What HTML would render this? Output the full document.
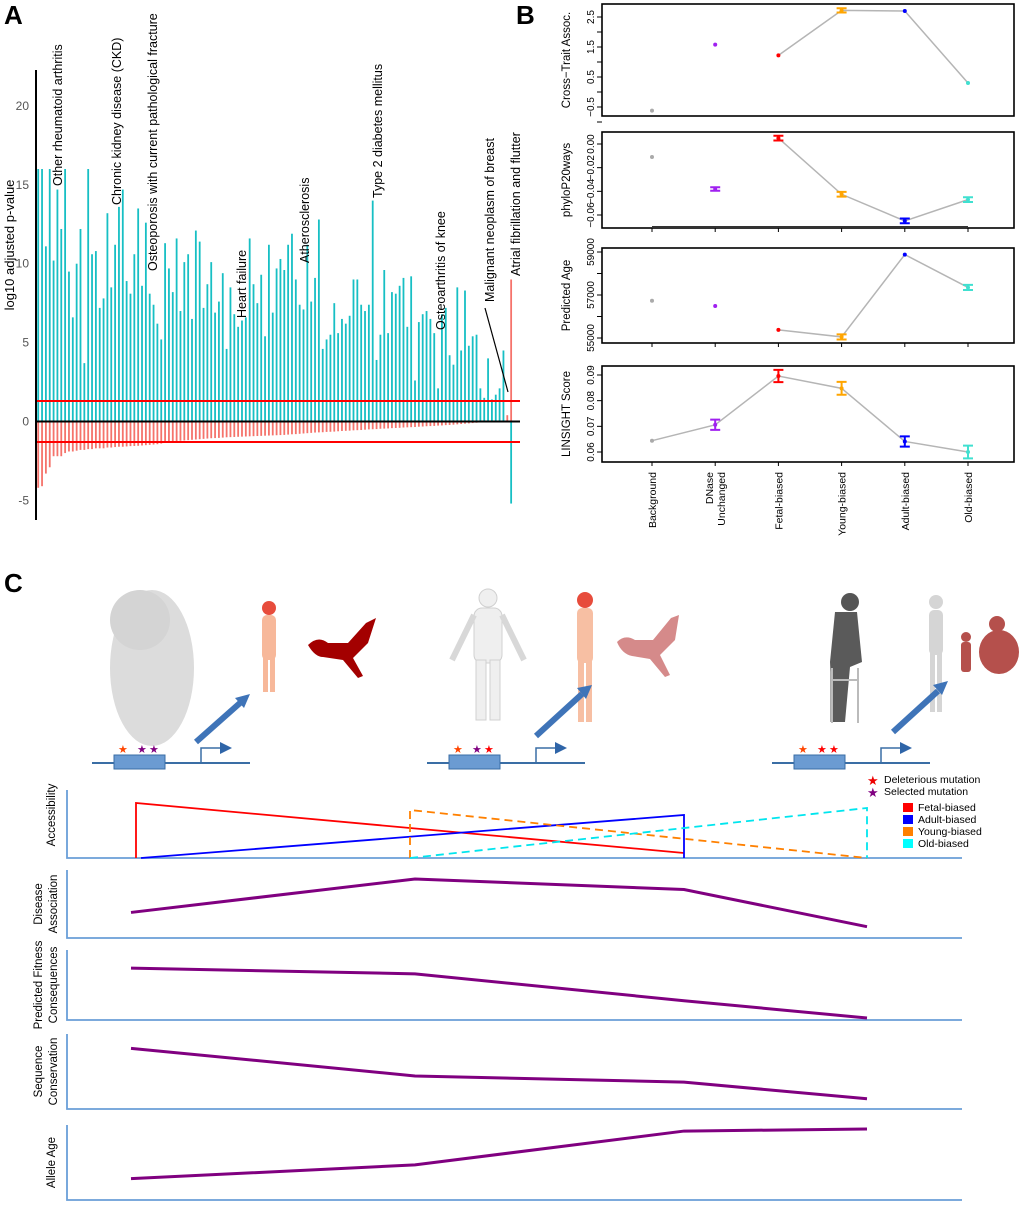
<!DOCTYPE html>
<html><head><meta charset="utf-8"><style>
body{margin:0;background:#fff}
svg{display:block;font-family:"Liberation Sans",Arial,sans-serif}
</style></head><body>
<svg id="fig" width="1020" height="1206" viewBox="0 0 1020 1206" xmlns="http://www.w3.org/2000/svg">
<text x="4" y="24" font-size="26" font-weight="bold">A</text>
<text x="516" y="24" font-size="26" font-weight="bold">B</text>
<text x="4" y="592" font-size="26" font-weight="bold">C</text>
<g id="pa"></g>
<g id="pb"></g>
<g id="pc">
  <g>
    <ellipse cx="152" cy="668" rx="42" ry="78" fill="#dcdcdc"/>
    <circle cx="140" cy="620" r="30" fill="#d4d4d4"/>
  </g>
  <g fill="#f7b89a">
    <circle cx="269" cy="608" r="7" fill="#e74c3c"/>
    <rect x="262" y="615" width="14" height="45" rx="5"/>
    <rect x="263" y="658" width="5" height="34"/><rect x="270" y="658" width="5" height="34"/>
  </g>
  <path d="M308 645 q10 -10 20 -2 l20 0 l18 -20 l10 -5 l-8 25 l-15 15 l10 18 l-5 2 l-15 -18 l-20 -3 q-8 0 -15 -12z" fill="#a30000"/>
  <g fill="#efefef" stroke="#d0d0d0">
    <circle cx="488" cy="598" r="9"/>
    <rect x="474" y="608" width="28" height="55" rx="8"/>
    <rect x="476" y="660" width="10" height="60"/><rect x="490" y="660" width="10" height="60"/>
    <path d="M474 615 l-22 45 M502 615 l22 45" stroke="#d8d8d8" stroke-width="6" fill="none"/>
  </g>
  <g fill="#f7bfa3">
    <circle cx="585" cy="600" r="8" fill="#e74c3c"/>
    <rect x="577" y="608" width="16" height="55" rx="5"/>
    <rect x="578" y="660" width="6" height="62"/><rect x="586" y="660" width="6" height="62"/>
  </g>
  <path d="M617 642 q8 -8 18 -2 l18 0 l18 -22 l8 -3 l-4 25 l-15 15 l10 20 l-5 2 l-15 -18 l-18 -3 q-10 -2 -15 -14z" fill="#d58a8a"/>
  <g>
    <circle cx="850" cy="602" r="9" fill="#555"/>
    <path d="M835 612 l22 0 l5 50 l-12 5 l-5 55 l-12 0 l-3 -60z" fill="#5a5a5a"/>
    <path d="M835 660 l0 62" stroke="#5a5a5a" stroke-width="9"/>
    <path d="M832 668 l0 55 M858 668 l0 55 M832 680 l26 0" stroke="#bbb" stroke-width="2" fill="none"/>
  </g>
  <g fill="#d5d5d5">
    <circle cx="936" cy="602" r="7"/>
    <rect x="929" y="610" width="14" height="45" rx="5"/>
    <rect x="930" y="652" width="5" height="60"/><rect x="937" y="652" width="5" height="60"/>
  </g>
  <g fill="#b5504c">
    <circle cx="966" cy="637" r="5"/>
    <rect x="961" y="642" width="10" height="30" rx="3"/>
    <circle cx="997" cy="624" r="8"/>
    <ellipse cx="999" cy="652" rx="20" ry="22"/>
  </g>
  <g stroke="#3f74b8" stroke-width="6" fill="#5a8ed0">
    <line x1="196" y1="742" x2="240" y2="703"/><polygon points="250,694 235,698 244,708" stroke="none" fill="#3f74b8"/>
    <line x1="536" y1="736" x2="582" y2="694"/><polygon points="592,685 577,688 586,699" stroke="none" fill="#3f74b8"/>
    <line x1="893" y1="732" x2="938" y2="691"/><polygon points="948,681 933,685 942,695" stroke="none" fill="#3f74b8"/>
  </g>
  <g id="genes"></g>
  <g id="cplots"></g>
  <g font-size="10.5">
    <text x="867" y="785" fill="#e00" font-size="13">★</text><text x="884" y="783">Deleterious mutation</text>
    <text x="867" y="797" fill="#800080" font-size="13">★</text><text x="884" y="795">Selected mutation</text>
    <rect x="903" y="803" width="10" height="9" fill="#f00"/><text x="918" y="811">Fetal-biased</text>
    <rect x="903" y="815" width="10" height="9" fill="#00f"/><text x="918" y="823">Adult-biased</text>
    <rect x="903" y="827" width="10" height="9" fill="#ff8000"/><text x="918" y="835">Young-biased</text>
    <rect x="903" y="839" width="10" height="9" fill="#0ff"/><text x="918" y="847">Old-biased</text>
  </g>
</g>
</svg>
<script>
const NS="http://www.w3.org/2000/svg";
function mk(parent,tag,attrs,txt){const e=document.createElementNS(NS,tag);for(const k in attrs)e.setAttribute(k,attrs[k]);if(txt!==undefined)e.textContent=txt;parent.appendChild(e);return e;}

// ---------- Panel A data ----------
const posValues=[16,16,11.1,16,10.2,14.7,12.2,16,9.5,6.6,10,12.2,3.7,16,10.6,10.8,7.2,7.8,13.2,8.5,11.2,13.6,14.7,8.9,8.1,10.6,13.5,8.6,12.6,8.1,7.4,6.2,5.2,11.3,9.7,8.2,11.6,7,10.1,10.6,6.5,12.1,11.4,7.2,8.7,10.1,6.9,7.6,9.4,4.6,8.5,6.8,6,6.4,6.6,11.6,8.7,7.5,9.3,5.4,11.2,6.9,9.7,10.3,9.6,11.2,11.9,9,7.4,7.1,11.2,7.6,9.1,12.8,4.6,5.2,5.5,7.5,5.6,6.5,6.2,6.7,9,9,7.4,7,7.4,14,3.9,5.5,9.6,5.6,8.2,8.1,8.6,9.1,6,9.2,2.6,6.3,6.8,7,6.5,5.6,2.1,6.8,7.2,4.2,3.6,8.5,4.5,8.3,4.8,5.4,5.5,2.1,1.5,4,1.4,1.7,2.1,4.5,0.4,9];
const negValues=[-4.2,-4.1,-3.3,-2.9,-2.2,-2.2,-2.2,-2.0,-1.9,-1.9,-1.85,-1.8,-1.8,-1.75,-1.75,-1.7,-1.7,-1.7,-1.65,-1.65,-1.62,-1.6,-1.6,-1.58,-1.56,-1.55,-1.54,-1.52,-1.5,-1.48,-1.46,-1.44,-1.4,-1.3,-1.28,-1.26,-1.24,-1.22,-1.2,-1.18,-1.16,-1.14,-1.12,-1.1,-1.08,-1.06,-1.05,-1.04,-1.02,-1.0,-0.99,-0.98,-0.97,-0.96,-0.95,-0.94,-0.93,-0.92,-0.91,-0.9,-0.89,-0.88,-0.87,-0.86,-0.85,-0.83,-0.81,-0.8,-0.78,-0.76,-0.74,-0.72,-0.7,-0.69,-0.68,-0.66,-0.65,-0.64,-0.62,-0.6,-0.59,-0.58,-0.56,-0.55,-0.54,-0.52,-0.5,-0.49,-0.48,-0.46,-0.45,-0.44,-0.42,-0.41,-0.4,-0.38,-0.37,-0.36,-0.35,-0.33,-0.32,-0.3,-0.29,-0.28,-0.26,-0.25,-0.23,-0.22,-0.2,-0.18,-0.16,-0.14,-0.12,-0.1,-0.08,-0.06,-0.05,-0.04,-0.03,-0.02,-0.01,0,0,-5.2];
const aTicks=[20,15,10,5,0,-5];
const threshold=1.3;
const labelNames=["Other rheumatoid arthritis","Chronic kidney disease (CKD)","Osteoporosis with current pathological fracture","Heart failure","Atherosclerosis","Type 2 diabetes mellitus","Osteoarthritis of knee","Malignant neoplasm of breast","Atrial fibrillation and flutter"];
const labelX=[62,121,157,246,309,382,445,494,520];
const labelY=[186,205,271,318,263,198,330,302,276];

const pa=document.getElementById('pa');
const ay=v=>421.5-v*15.78, ax=i=>37.3+i*3.845;
aTicks.forEach(t=>{const tx=mk(pa,'text',{x:29,y:ay(t)+4,'font-size':12,fill:'#555','text-anchor':'end'},t);

});
const ylab=mk(pa,'text',{transform:'translate(14,245) rotate(-90)','font-size':13,'text-anchor':'middle'},'log10 adjusted p-value');


const last=posValues.length-1;
posValues.forEach((v,i)=>{
  const isLast=i===last;
  const col=isLast?'#f5736b':(v<1?'#f5736b':'#17bfc4');
  const b=mk(pa,'rect',{x:ax(i),y:ay(v),width:1.8,height:Math.max(0,ay(0)-ay(v)),fill:col});
  
  
  const n=negValues[i]||0;
  const b2=mk(pa,'rect',{x:ax(i),y:ay(0),width:1.8,height:Math.max(0,ay(n)-ay(0)),fill:isLast?'#17bfc4':'#f5736b'});
  
  
});
[threshold,-threshold].forEach(t=>{const l=mk(pa,'line',{x1:36,x2:520,y1:ay(t),y2:ay(t),stroke:'#f00','stroke-width':2});

});
const z=mk(pa,'line',{x1:35,x2:520,y1:ay(0),y2:ay(0),stroke:'#000','stroke-width':2});


const yax=mk(pa,'line',{x1:36,x2:36,y1:70,y2:520,stroke:'#000','stroke-width':2});


labelNames.forEach((s,k)=>{
  const t=mk(pa,'text',{transform:`translate(${labelX[k]},${labelY[k]}) rotate(-90)`,'font-size':12.5},s);
  
  
});
const pl=mk(pa,'line',{x1:485,y1:308,x2:508,y2:392,stroke:'#000','stroke-width':1.2});



// ---------- Panel B data ----------
const categories=["Background","DNase|Unchanged","Fetal-biased","Young-biased","Adult-biased","Old-biased"];
const catColors=["#aaaaaa","#a020f0","#ff0000","#ffa500","#0000ff","#40e0d0"];
const crossVals=[-0.62,1.58,1.22,2.72,2.7,0.3];
const crossErr=[0,0,0,0.07,0,0];
const phyloVals=[-0.011,-0.038,0.005,-0.0425,-0.065,-0.047];
const phyloErr=[0,0.0015,0.002,0.002,0.002,0.002];
const ageVals=[56730,56490,55380,55050,58880,57350];
const ageErr=[0,0,0,120,0,120];
const linVals=[0.0644,0.0706,0.0896,0.0848,0.0641,0.060];
const linErr=[0,0.002,0.0024,0.0025,0.002,0.0025];
const crossTicks=[2.5,1.5,0.5,-0.5],crossMinor=[2,1,0,-1];
const phyloTicks=[0,-0.02,-0.04,-0.06];
const ageTicks=[59000,57000,55000],ageMinor=[58000,56000];
const linTicks=[0.09,0.08,0.07,0.06];

const pb=document.getElementById('pb');
const bx=i=>652+i*63.2;
const plots=[
 {name:'cross-trait',title:'Cross−Trait Assoc.',top:4,bot:116,v0:2.5,p0:17,v1:-0.5,p1:107,vals:crossVals,err:crossErr,ticks:crossTicks,minor:crossMinor,fmt:v=>v.toFixed(1).replace('-','−'),lineFrom:2},
 {name:'phylop',title:'phyloP20ways',top:132,bot:228,v0:0,p0:144,v1:-0.06,p1:215,vals:phyloVals,err:phyloErr,ticks:phyloTicks,minor:[],fmt:v=>v.toFixed(2).replace('-','−'),lineFrom:2},
 {name:'predicted-age',title:'Predicted Age',top:248,bot:343,v0:59000,p0:252,v1:55000,p1:338,vals:ageVals,err:ageErr,ticks:ageTicks,minor:ageMinor,fmt:v=>String(v),lineFrom:2},
 {name:'linsight',title:'LINSIGHT Score',top:366,bot:462,v0:0.09,p0:375,v1:0.06,p1:452,vals:linVals,err:linErr,ticks:linTicks,minor:[],fmt:v=>v.toFixed(2),lineFrom:0}
];
plots.forEach(p=>{
  const g=mk(pb,'g',{});
  
  
  const sy=v=>p.p0+(v-p.v0)*(p.p1-p.p0)/(p.v1-p.v0);
  mk(g,'rect',{x:602,y:p.top,width:412,height:p.bot-p.top,fill:'none',stroke:'#000','stroke-width':1.6});
  p.ticks.forEach(t=>{mk(g,'line',{x1:597,x2:602,y1:sy(t),y2:sy(t),stroke:'#000'});
    const tx=mk(g,'text',{transform:`translate(${594},${sy(t)}) rotate(-90)`,'font-size':10,'text-anchor':'middle'},p.fmt(t));
    
    });
  p.minor.forEach(t=>mk(g,'line',{x1:597,x2:602,y1:sy(t),y2:sy(t),stroke:'#000'}));
  const tt=mk(g,'text',{transform:`translate(570,${(p.top+p.bot)/2}) rotate(-90)`,'font-size':11.5,'text-anchor':'middle'},p.title);
  
  
  let d='';
  for(let i=p.lineFrom;i<p.vals.length;i++)d+=(i===p.lineFrom?'M':'L')+bx(i)+' '+sy(p.vals[i]);
  const ln=mk(g,'path',{d:d,fill:'none',stroke:'#b5b5b5','stroke-width':1.5});
  
  
  p.vals.forEach((v,i)=>{
    const c=catColors[i];
    if(p.err[i]>0){const y1=sy(v+p.err[i]),y2=sy(v-p.err[i]);
      const eb=mk(g,'path',{d:`M${bx(i)-5} ${y1}H${bx(i)+5}M${bx(i)} ${y1}V${y2}M${bx(i)-5} ${y2}H${bx(i)+5}`,stroke:c,'stroke-width':2,fill:'none'});
      
      }
    const pt=mk(g,'circle',{cx:bx(i),cy:sy(v),r:2,fill:c});
    
    
  });
  if(p.name==='phylop'){mk(g,'line',{x1:652,x2:968,y1:227,y2:227,stroke:'#333','stroke-width':2});}
  if(p.name!=='cross-trait'){categories.forEach((c,i)=>mk(g,'line',{x1:bx(i),x2:bx(i),y1:p.bot,y2:p.bot+4,stroke:'#000'}));}
});
categories.forEach((c,i)=>{
  const parts=c.split('|');
  parts.forEach((s,j)=>{
    const off=parts.length>1?(j===0?-2:10):4;
    const t=mk(pb,'text',{transform:`translate(${bx(i)+off},${472}) rotate(-90)`,'font-size':10.5,'text-anchor':'end'},s);
    
    
  });
});

// ---------- Panel C ----------
const genes=document.getElementById('genes');
const geneOffsets=[0,335,680];
const starColors=[["#ff4500","#800080","#800080"],["#ff4500","#800080","#f00"],["#ff4500","#f00","#f00"]];
geneOffsets.forEach((o,k)=>{
  const g=mk(genes,'g',{});
  
  
  mk(g,'line',{x1:92+o,x2:250+o,y1:763,y2:763,stroke:'#3a6ea5','stroke-width':2});
  mk(g,'rect',{x:114+o,y:755,width:51,height:14,fill:'#6b9bd2',stroke:'#3a6ea5'});
  mk(g,'path',{d:`M${201+o} 763V748H${220+o}`,stroke:'#3a6ea5','stroke-width':1.5,fill:'none'});
  mk(g,'polygon',{points:`${220+o},742 ${232+o},748 ${220+o},754`,fill:'#2f65a8'});
  [123,142,154].forEach((sx,j)=>mk(g,'text',{x:sx+o-5,y:753,'font-size':11,fill:starColors[k][j]},'★'));
});
const cp=document.getElementById('cplots');
const stageX=[131,415,684,867];
const diseaseVals=[0.38,0.92,0.75,0.15];
const fitnessVals=[0.78,0.69,0.27,0.0];
const conservationVals=[0.85,0.45,0.36,0.12];
const alleleVals=[0.28,0.48,0.97,1.0];
const cRows=[
 {name:'disease-association',lines:['Disease','Association'],top:870,bot:938,vals:diseaseVals},
 {name:'predicted-fitness',lines:['Predicted Fitness','Consequences'],top:950,bot:1020,vals:fitnessVals},
 {name:'sequence-conservation',lines:['Sequence','Conservation'],top:1034,bot:1109,vals:conservationVals},
 {name:'allele-age',lines:['Allele Age'],top:1125,bot:1200,vals:alleleVals}
];
function axes(g,top,bot){mk(g,'path',{d:`M67 ${top}V${bot}H962`,stroke:'#6a9fd8','stroke-width':1.8,fill:'none'});}
const acc=mk(cp,'g',{});


axes(acc,790,858);
mk(acc,'text',{transform:'translate(55,815) rotate(-90)','font-size':11.5,'text-anchor':'middle'},'Accessibility');
mk(acc,'path',{d:'M136 858V803L684 853',stroke:'#f00','stroke-width':1.8,fill:'none'});
mk(acc,'path',{d:'M141 858L684 815V858',stroke:'#00f','stroke-width':1.8,fill:'none'});
mk(acc,'path',{d:'M410 858V810L867 858',stroke:'#ff8000','stroke-width':1.8,fill:'none','stroke-dasharray':'8,5'});
mk(acc,'path',{d:'M410 858L867 808V858',stroke:'#00e5ee','stroke-width':1.8,fill:'none','stroke-dasharray':'8,5'});
cRows.forEach(r=>{
  const g=mk(cp,'g',{});
  
  
  axes(g,r.top,r.bot);
  const mid=(r.top+r.bot)/2;
  r.lines.forEach((s,j)=>mk(g,'text',{transform:`translate(${r.lines.length>1?42+j*15:55},${mid}) rotate(-90)`,'font-size':11.5,'text-anchor':'middle'},s));
  const yy=v=>r.bot-2-v*(r.bot-r.top-6);
  let d='';stageX.forEach((x,i)=>d+=(i?'L':'M')+x+' '+yy(r.vals[i]));
  const ln=mk(g,'path',{d:d,stroke:'#800080','stroke-width':3,fill:'none'});
  
  
});
</script>
</body></html>
